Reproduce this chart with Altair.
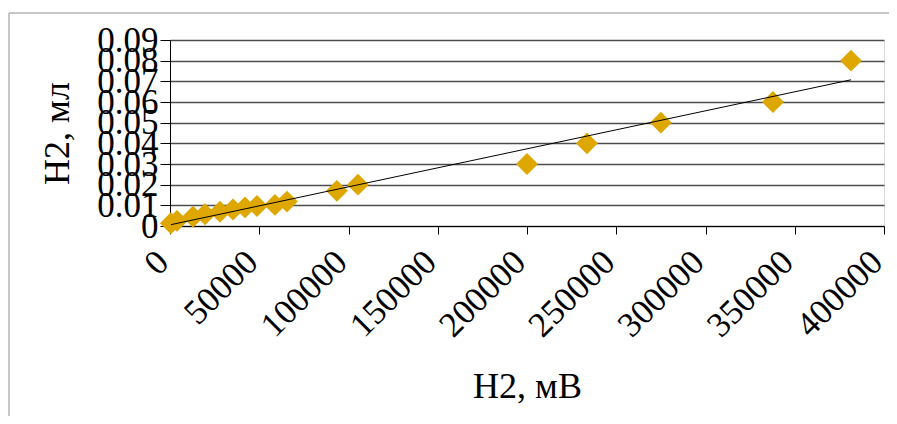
import altair as alt
import pandas as pd

# Data
mv = [500, 3900, 12900, 19600, 28000, 35300, 42000, 48700, 58800, 65500,
      93500, 105300, 200000, 233600, 275000, 337800, 381500]
ml = [0.0013, 0.0025, 0.0045, 0.0057, 0.0069, 0.0080, 0.0090, 0.0097, 0.0102, 0.0118,
      0.017, 0.020, 0.030, 0.040, 0.050, 0.060, 0.080]

x_ticks = [0, 50000, 100000, 150000, 200000, 250000, 300000, 350000, 400000]
y_ticks = [0, 0.01, 0.02, 0.03, 0.04, 0.05, 0.06, 0.07, 0.08, 0.09]

df = pd.DataFrame({"mv": mv, "ml": ml})

FONT = "Liberation Serif"

x_enc = alt.X(
    "mv:Q",
    scale=alt.Scale(domain=[0, 400000], nice=False),
    axis=alt.Axis(
        values=x_ticks, tickCount=20, format="d", grid=False,
        labelAngle=-45, labelAlign="right", labelBaseline="alphabetic",
        labelFont=FONT, labelFontSize=35, labelColor="black",
        labelPadding=30, labelOverlap=False, labelFlush=False,
        tickSize=8, tickColor="black", domainColor="black",
        title="H2, мВ", titleFont=FONT, titleFontSize=36, titleFontWeight="normal",
        titleColor="black", titleX=357, titleY=160, titleBaseline="middle",
    ),
)
y_enc = alt.Y(
    "ml:Q",
    scale=alt.Scale(domain=[0, 0.09], nice=False),
    axis=alt.Axis(
        values=y_ticks, tickCount=20, grid=True, gridColor="#4d4d4d", gridWidth=1.3,
        labelExpr="datum.value == 0 ? '0' : format(datum.value, '.2f')",
        labelFont=FONT, labelFontSize=35, labelColor="black",
        labelPadding=2, labelOverlap=False, labelFlush=False,
        tickSize=10, tickColor="black", domainColor="black",
        title="H2, мл", titleFont=FONT, titleFontSize=36, titleFontWeight="normal",
        titleColor="black", titleX=-113, titleY=93, titleBaseline="middle",
        titleAlign="center",
    ),
)

points = alt.Chart(df).mark_point(
    shape="diamond", filled=True, size=480, color="#DDA700", opacity=1
).encode(x=x_enc, y=y_enc)

trend = alt.Chart(df).transform_regression("mv", "ml").mark_line(
    color="black", strokeWidth=1
).encode(x="mv:Q", y="ml:Q")

frame_top = alt.Chart(alt.Data(values=[{}])).mark_rule(
    color="#b4b4b4", strokeWidth=1.5
).encode(x=alt.value(-161), x2=alt.value(740), y=alt.value(-27))

frame_left = alt.Chart(alt.Data(values=[{}])).mark_rule(
    color="#b4b4b4", strokeWidth=1.5
).encode(x=alt.value(-161), y=alt.value(-27), y2=alt.value(400))

chart = alt.layer(frame_top, frame_left, points, trend).properties(
    width=714, height=186,
    autosize=alt.AutoSizeParams(type="none"),
    padding={"left": 162, "top": 32, "right": 5, "bottom": 190},
).configure_view(stroke="#c0c0c0").configure(background="white")

chart.save("out.html", embed_options={"renderer": "svg", "actions": False})
